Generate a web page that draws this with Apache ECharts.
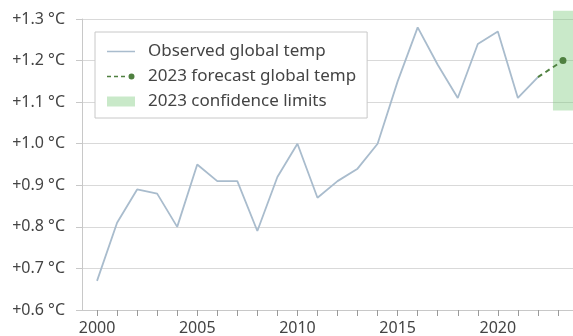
<!DOCTYPE html>
<html>
<head>
<meta charset="utf-8">
<script src="https://cdn.jsdelivr.net/npm/echarts@6/dist/echarts.min.js"></script>
<style>html,body{margin:0;padding:0;background:#fff;}#c{width:573px;height:336px;}</style>
</head>
<body>
<div id="c"></div>
<script>
// Observed global temperature anomaly
const years = [2000,2001,2002,2003,2004,2005,2006,2007,2008,2009,2010,2011,2012,2013,2014,2015,2016,2017,2018,2019,2020,2021,2022];
const observed = [0.67,0.81,0.89,0.88,0.80,0.95,0.91,0.91,0.79,0.92,1.00,0.87,0.91,0.94,1.00,1.15,1.28,1.19,1.11,1.24,1.27,1.11,1.16];
// Forecast (from last observed year to the 2023 forecast point)
const forecastX = [2022, 2023.25];
const forecastY = [1.16, 1.20];
// Confidence band for the 2023 forecast
const bandX = [2022.75, 2023.75];
const bandY = [1.08, 1.32];
// Axis tick labels
const xLabelYears = [2000, 2005, 2010, 2015, 2020];
const xTickYears = [2000,2001,2002,2003,2004,2005,2006,2007,2008,2009,2010,2011,2012,2013,2014,2015,2016,2017,2018,2019,2020,2021,2022,2023];
const yTicks = [0.6, 0.7, 0.8, 0.9, 1.0, 1.1, 1.2, 1.3];

const names = ['Observed global temp', '2023 forecast global temp', '2023 confidence limits'];
const FONT = '"Noto Sans", sans-serif';

const chart = echarts.init(document.getElementById('c'), null, {renderer: 'canvas'});
chart.setOption({
  animation: false,
  backgroundColor: '#fff',
  textStyle: {fontFamily: FONT},
  grid: {left: 82, top: 19, width: 494, height: 294, containLabel: false},
  xAxis: {
    type: 'value', min: 1999.25, max: 2023.75,
    axisLine: {show: true, lineStyle: {color: '#c8c8c8', width: 1}},
    axisTick: {show: true, customValues: xTickYears, length: 6, lineStyle: {color: '#9a9a9a'}},
    axisLabel: {customValues: xLabelYears, margin: 10, fontSize: 16, color: '#444', fontFamily: FONT,
      formatter: v => String(v)},
    splitLine: {show: false}
  },
  yAxis: {
    type: 'value', min: yTicks[0], max: yTicks[yTicks.length - 1], interval: 0.1,
    axisLine: {show: true, lineStyle: {color: '#c8c8c8', width: 1}},
    axisTick: {show: true, length: 6, lineStyle: {color: '#c8c8c8'}},
    axisLabel: {margin: 17, fontSize: 16, color: '#444', fontFamily: FONT,
      formatter: v => '+' + v.toFixed(1) + ' °C'},
    splitLine: {show: true, lineStyle: {color: '#d9d9d9', width: 1}}
  },
  legend: {
    orient: 'vertical', left: 95, top: 32,
    backgroundColor: '#fff', borderColor: '#c8c8c8', borderWidth: 1, borderRadius: 0,
    padding: [11, 11, 8, 12], itemGap: 8, itemWidth: 28, itemHeight: 10,
    textStyle: {fontSize: 17, color: '#444', fontFamily: FONT, padding: [0, 0, 0, 8]},
    selectedMode: false,
    data: [
      {name: names[0], icon: 'path://M0,0h0.01v0.01h-0.01z M0,4.3h28v1.4h-28z M27.99,9.99h0.01v0.01h-0.01z'},
      {name: names[1], icon: 'path://M0,0h0.01v0.01h-0.01z M0,4.2h4v1.6h-4z M7,4.2h4v1.6h-4z M14,4.2h4v1.6h-4z M21.5,5a3,3 0 1,0 6,0a3,3 0 1,0 -6,0z M27.99,9.99h0.01v0.01h-0.01z'},
      {name: names[2], icon: 'path://M0,0h28v10h-28z'}
    ]
  },
  series: [
    {
      name: names[2], type: 'custom', color: 'rgba(120,200,120,0.4)', clip: false, z: 1,
      data: [[bandX[0], bandX[1], bandY[0], bandY[1]]],
      encode: {x: [0, 1], y: [2, 3]},
      renderItem: (params, api) => {
        const p0 = api.coord([api.value(0), api.value(3)]);
        const p1 = api.coord([api.value(1), api.value(2)]);
        return {type: 'rect', shape: {x: p0[0], y: p0[1], width: p1[0] - p0[0], height: p1[1] - p0[1]},
          style: {fill: api.visual('color')}};
      }
    },
    {
      name: names[0], type: 'line', color: '#a9bccd', symbol: 'none', z: 3,
      lineStyle: {width: 1.8, color: '#a9bccd'},
      data: years.map((y, i) => [y, observed[i]])
    },
    {
      name: names[1], type: 'line', color: '#4f8040', symbol: 'circle', symbolSize: 7, z: 4,
      lineStyle: {width: 2, type: [5, 4], color: '#4f8040'},
      itemStyle: {color: '#4f8040'},
      data: forecastX.map((x, i) => i === 0 ? {value: [x, forecastY[i]], symbol: 'none'} : [x, forecastY[i]])
    }
  ]
});
</script>
</body>
</html>
